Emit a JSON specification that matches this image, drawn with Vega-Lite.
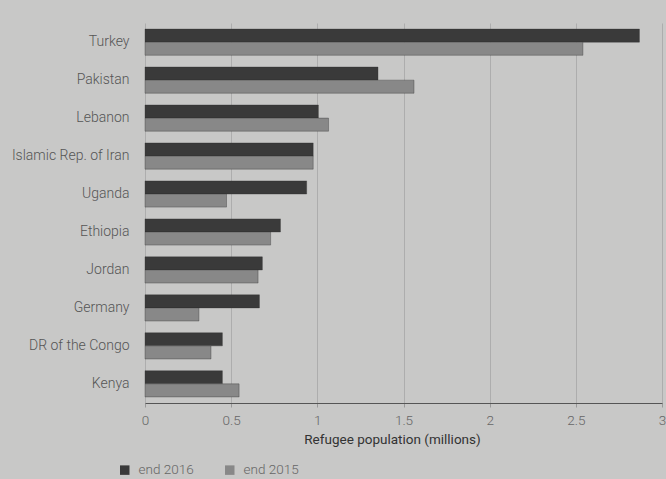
{
  "$schema": "https://vega.github.io/schema/vega-lite/v6.json",
  "width": 517,
  "height": 380,
  "autosize": "none",
  "padding": {"left": 145, "top": 23, "right": 4, "bottom": 76},
  "background": "#c8c8c7",
  "config": {
    "view": {"stroke": null},
    "font": "Roboto",
    "axis": {"labelFont": "Roboto", "titleFont": "Roboto"},
    "legend": {"labelFont": "Roboto"}
  },
  "data": {
    "values": [
      {"country": "Turkey", "year": "end 2016", "value": 2.869},
      {"country": "Turkey", "year": "end 2015", "value": 2.541},
      {"country": "Pakistan", "year": "end 2016", "value": 1.352},
      {"country": "Pakistan", "year": "end 2015", "value": 1.561},
      {"country": "Lebanon", "year": "end 2016", "value": 1.006},
      {"country": "Lebanon", "year": "end 2015", "value": 1.065},
      {"country": "Islamic Rep. of Iran", "year": "end 2016", "value": 0.976},
      {"country": "Islamic Rep. of Iran", "year": "end 2015", "value": 0.976},
      {"country": "Uganda", "year": "end 2016", "value": 0.938},
      {"country": "Uganda", "year": "end 2015", "value": 0.473},
      {"country": "Ethiopia", "year": "end 2016", "value": 0.786},
      {"country": "Ethiopia", "year": "end 2015", "value": 0.729},
      {"country": "Jordan", "year": "end 2016", "value": 0.681},
      {"country": "Jordan", "year": "end 2015", "value": 0.656},
      {"country": "Germany", "year": "end 2016", "value": 0.664},
      {"country": "Germany", "year": "end 2015", "value": 0.313},
      {"country": "DR of the Congo", "year": "end 2016", "value": 0.449},
      {"country": "DR of the Congo", "year": "end 2015", "value": 0.383},
      {"country": "Kenya", "year": "end 2016", "value": 0.449},
      {"country": "Kenya", "year": "end 2015", "value": 0.546}
    ]
  },
  "mark": {"type": "bar", "stroke": "#2e2e2e", "strokeOpacity": 0.35, "strokeWidth": 1},
  "encoding": {
    "y": {
      "field": "country",
      "type": "nominal",
      "sort": null,
      "scale": {"paddingInner": 0.31, "paddingOuter": 0.16},
      "axis": {
        "title": null,
        "domain": false,
        "ticks": false,
        "labelPadding": 16,
        "labelFontSize": 14,
        "labelColor": "#555555",
        "labelFontWeight": 300,
        "grid": false
      }
    },
    "yOffset": {
      "field": "year",
      "type": "nominal",
      "sort": ["end 2016", "end 2015"]
    },
    "x": {
      "field": "value",
      "type": "quantitative",
      "scale": {"domain": [0, 3], "nice": false},
      "axis": {
        "title": "Refugee population (millions)",
        "titleFontSize": 13.5,
        "titleFontWeight": 400,
        "titleColor": "#333333",
        "titlePadding": 6,
        "titleX": 247,
        "titleAlign": "center",
        "format": "~g",
        "values": [0, 0.5, 1, 1.5, 2, 2.5, 3],
        "labelFlush": false,
        "labelOverlap": false,
        "labelFontSize": 13.5,
        "labelColor": "#666666",
        "labelFontWeight": 300,
        "labelPadding": 6,
        "domainColor": "#555555",
        "tickColor": "#999999",
        "tickSize": 4,
        "gridColor": "#adadad",
        "gridWidth": 1
      }
    },
    "color": {
      "field": "year",
      "type": "nominal",
      "sort": ["end 2016", "end 2015"],
      "scale": {"domain": ["end 2016", "end 2015"], "range": ["#3a3a3a", "#888888"]},
      "legend": {
        "title": null,
        "orient": "none",
        "direction": "horizontal",
        "legendX": -27,
        "legendY": 440,
        "symbolType": "square",
        "symbolSize": 90,
        "symbolStrokeWidth": 0,
        "labelFontSize": 13.5,
        "labelColor": "#666666",
        "labelFontWeight": 300,
        "columnPadding": 29,
        "labelOffset": 7
      }
    }
  }
}
